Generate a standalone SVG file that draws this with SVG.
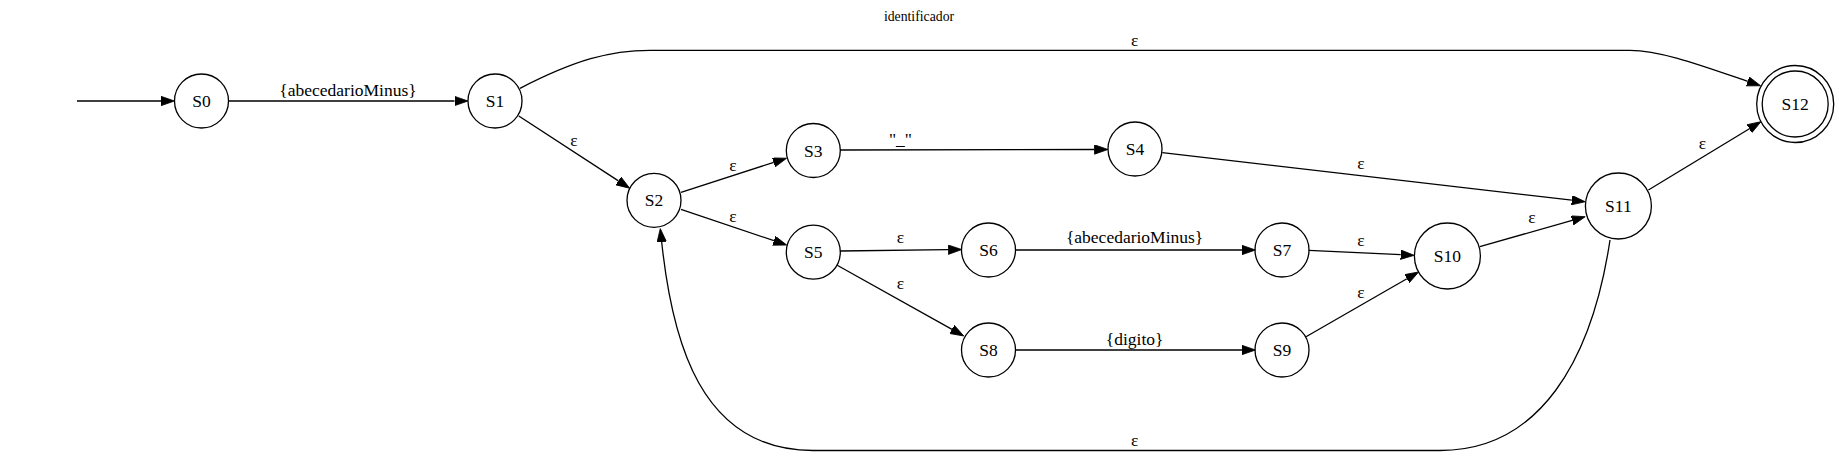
<svg xmlns="http://www.w3.org/2000/svg" width="1839" height="456" viewBox="0 0 1839 456">
<style>
  text { font-family: 'Liberation Serif', 'DejaVu Serif', serif; fill: #000; text-anchor: middle; }
  .node circle { fill: none; stroke: #000; stroke-width: 1.3; }
  .node text, .lbl { font-size: 17.5px; }
  .title { font-size: 13.75px; }
  .edge { fill: none; stroke: #000; stroke-width: 1.3; marker-end: url(#arr); }
</style>
<defs>
  <marker id="arr" markerUnits="userSpaceOnUse" markerWidth="14" markerHeight="10" refX="0" refY="4.7" orient="auto">
    <path d="M0,0 L13.5,4.7 L0,9.4 z" fill="#000" stroke="#000" stroke-width="0.8"/>
  </marker>
</defs>
<rect width="1839" height="456" fill="#fff"/>
<text class="title" x="919" y="20.5">identificador</text>
<g id="connectors">
  <path class="edge" d="M77,101 L161,101"/>
  <path class="edge" d="M228.5,101 L454.5,101"/>
  <path class="edge" d="M518.8,116 L618.4,180.9"/>
  <path class="edge" d="M681,192.3 L773.75,162.4"/>
  <path class="edge" d="M681,209.3 L773.9,240.7"/>
  <path class="edge" d="M840,150 L1094.5,149.5"/>
  <path class="edge" d="M1162.3,152.7 L1571.8,200.2"/>
  <path class="edge" d="M840,251 L948.3,249.7"/>
  <path class="edge" d="M837.2,265.3 L952,329.4"/>
  <path class="edge" d="M1015.2,250 L1242,250"/>
  <path class="edge" d="M1015.2,350 L1242,350"/>
  <path class="edge" d="M1308.8,250.3 L1400.7,254.7"/>
  <path class="edge" d="M1306,336.7 L1406.9,278.7"/>
  <path class="edge" d="M1479.8,246.7 L1572.2,220.4"/>
  <path class="edge" d="M1648.4,190 L1749.4,128.7"/>
  <path class="edge" d="M520,88.3 C575,60 610,50.3 650,50.3 L1630,50.3 C1660,50.3 1700,65 1747.8,81.4"/>
  <path class="edge" d="M1610,240 C1592,360 1540,450.5 1440,450.5 L813,450.5 C700,450.5 672,340 661.7,242"/>
  <text class="lbl" x="348" y="96">{abecedarioMinus}</text>
  <text class="lbl" x="1134.6" y="45.5">ε</text>
  <text class="lbl" x="574" y="145.7">ε</text>
  <text class="lbl" x="733" y="170.5">ε</text>
  <text class="lbl" x="733" y="221.7">ε</text>
  <text class="lbl" x="900.5" y="145">"_"</text>
  <text class="lbl" x="1361" y="168.7">ε</text>
  <text class="lbl" x="1702.5" y="149.3">ε</text>
  <text class="lbl" x="1532" y="223.3">ε</text>
  <text class="lbl" x="900.5" y="243.3">ε</text>
  <text class="lbl" x="1134.6" y="243">{abecedarioMinus}</text>
  <text class="lbl" x="900.5" y="289.3">ε</text>
  <text class="lbl" x="1134.6" y="345.3">{digito}</text>
  <text class="lbl" x="1361" y="246">ε</text>
  <text class="lbl" x="1361" y="297.7">ε</text>
  <text class="lbl" x="1134.6" y="446">ε</text>
</g>
<g id="S0" class="node"><circle cx="201.5" cy="101" r="27"/><text x="201.5" y="107">S0</text></g>
<g id="S1" class="node"><circle cx="495" cy="101" r="27"/><text x="495" y="107">S1</text></g>
<g id="S2" class="node"><circle cx="654" cy="200.3" r="27"/><text x="654" y="206.3">S2</text></g>
<g id="S3" class="node"><circle cx="813.3" cy="150.5" r="27"/><text x="813.3" y="156.5">S3</text></g>
<g id="S4" class="node"><circle cx="1135" cy="149" r="27"/><text x="1135" y="155">S4</text></g>
<g id="S5" class="node"><circle cx="813.3" cy="252.2" r="27"/><text x="813.3" y="258.2">S5</text></g>
<g id="S6" class="node"><circle cx="988.5" cy="250" r="27"/><text x="988.5" y="256">S6</text></g>
<g id="S7" class="node"><circle cx="1282" cy="250" r="27"/><text x="1282" y="256">S7</text></g>
<g id="S8" class="node"><circle cx="988.5" cy="350" r="27"/><text x="988.5" y="356">S8</text></g>
<g id="S9" class="node"><circle cx="1282" cy="350" r="27"/><text x="1282" y="356">S9</text></g>
<g id="S10" class="node"><circle cx="1447.4" cy="256" r="33"/><text x="1447.4" y="262">S10</text></g>
<g id="S11" class="node"><circle cx="1618.4" cy="206" r="33"/><text x="1618.4" y="212">S11</text></g>
<g id="S12" class="node"><circle cx="1795.2" cy="104" r="33"/><circle cx="1795.2" cy="104" r="38.5"/><text x="1795.2" y="110">S12</text></g>
</svg>
